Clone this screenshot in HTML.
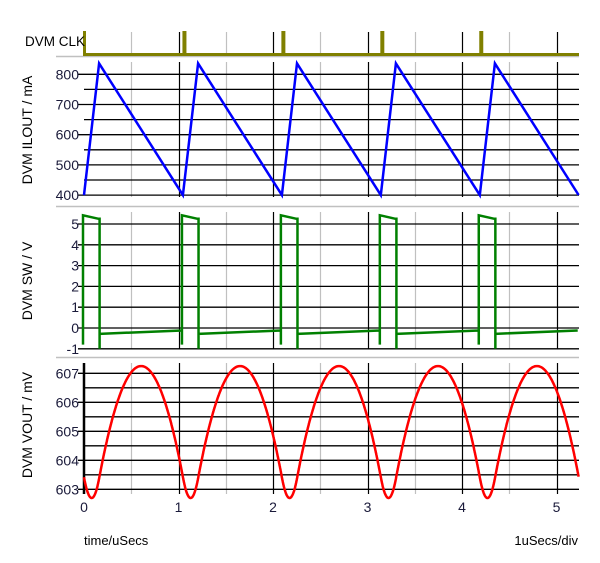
<!DOCTYPE html>
<html><head><style>
html,body{margin:0;padding:0;background:#fff;}
svg{display:block;font-family:"Liberation Sans",sans-serif;}
</style></head><body>
<svg id="s" width="600" height="563" xmlns="http://www.w3.org/2000/svg">
<g id="g"></g>
<text x="25" y="46" font-size="13.5" fill="#000">DVM CLK</text>
<text transform="translate(32,130) rotate(-90)" font-size="14" text-anchor="middle" fill="#000">DVM ILOUT / mA</text>
<text transform="translate(32,281) rotate(-90)" font-size="14" text-anchor="middle" fill="#000">DVM SW / V</text>
<text transform="translate(32,425) rotate(-90)" font-size="14" text-anchor="middle" fill="#000">DVM VOUT / mV</text>
<text x="84" y="545" font-size="13" fill="#000">time/uSecs</text>
<text x="578" y="545" font-size="13" text-anchor="end" fill="#000">1uSecs/div</text>
</svg>
<script>
const NS="http://www.w3.org/2000/svg",g=document.getElementById("g");
function el(t,a){const e=document.createElementNS(NS,t);for(const k in a)e.setAttribute(k,a[k]);g.appendChild(e);return e;}
function line(x1,y1,x2,y2,c,w){el("line",{x1,y1,x2,y2,stroke:c,"stroke-width":w||1});}
function txt(x,y,s,anchor){const e=el("text",{x,y,"font-size":14,"text-anchor":anchor||"end",fill:"#1a1a3a"});e.textContent=s;}
const X=t=>84+94.5*t, XR=579, P=1.047;
[56.5,206.5,357.5].forEach(y=>line(56,y,XR,y,"#c0c0c0",1.5));
const panels=[[32,54],[62,197],[212,349],[363,494]];
panels.forEach(([a,b])=>{for(let k=0.5;k<5.3;k+=0.5){const x=Math.round(X(k))+0.5;line(x,a,x,b,Number.isInteger(k)?"#000":"#c0c0c0",1.2);}});
const YI=v=>74.3+(800-v)*0.302;
for(let v=400;v<=800;v+=50){const y=YI(v);line(v%100==0?78:84,y,XR,y,"#000",1.3);if(v%100==0)txt(79,y+5,v);}
const YS=v=>328-v*20.8;
for(let v=-1;v<=5;v++){const y=YS(v);line(78,y,XR,y,"#000",1.3);txt(79,y+5,v);}
const YV=v=>373.3+(607-v)*29;
for(let v=603;v<=607;v+=0.5){const y=YV(v);line(Number.isInteger(v)?78:84,y,XR,y,"#000",1.3);if(Number.isInteger(v))txt(79,y+5,v);}
line(84,363,84,494,"#000",2.5);
for(let k=0;k<=5;k++){txt(X(k),512,k,"middle");}
el("path",{d:"M84.5,31 L84.5,54.5 L"+XR+",54.5",stroke:"#808000","stroke-width":3,fill:"none"});
for(let k=1;k<=4;k++){const x=X(k*P)+1.5;el("rect",{x:x-2,y:31,width:4,height:23,fill:"#808000"});}
const tr=0.16,Imin=400,Imax=836;
function I(t){let u=((t%P)+P)%P;return u<tr?Imin+(Imax-Imin)*u/tr:Imax-(Imax-Imin)*(u-tr)/(P-tr);}
let pi=[],tEnd=Math.min((XR-84)/94.5,5*P-0.001);
for(let k=0;k<=4;k++){const t0=k*P;pi.push([t0,Imin]);pi.push([t0+tr,Imax]);}
pi.push([tEnd,I(tEnd)]);
el("polyline",{points:pi.map(p=>X(p[0]).toFixed(1)+","+YI(p[1]).toFixed(1)).join(" "),stroke:"#0000ff","stroke-width":2.5,fill:"none"});
let sp=[];
for(let k=0;k<=4;k++){const t0=k*P;const x0=X(t0)-1,x1=X(t0+0.165);
 sp.push(`M${x0},${YS(-0.8)} L${x0},${YS(5.42)} L${x1-1},${YS(5.25)} L${x1},${YS(5.25)} L${x1},${YS(-1)} M${x1},${YS(-0.28)} L${Math.min(X(t0+P)-1,XR)},${YS(-0.12)}`);}
el("path",{d:sp.join(" "),stroke:"#008000","stroke-width":2.5,fill:"none"});
const mean=(Imin+Imax)/2;let v=0,vs=[],N=2000;
for(let i=0;i<=N;i++){const t=tEnd*i/N;vs.push([t,v]);v+=(I(t)-mean)*tEnd/N;}
let mn=1e9,mx=-1e9;vs.forEach(p=>{mn=Math.min(mn,p[1]);mx=Math.max(mx,p[1]);});
const pts=vs.map(p=>X(p[0]).toFixed(1)+","+YV(602.7+(p[1]-mn)/(mx-mn)*4.55).toFixed(1));
el("polyline",{points:pts.join(" "),stroke:"#ff0000","stroke-width":2.5,fill:"none"});
</script>
</body></html>
